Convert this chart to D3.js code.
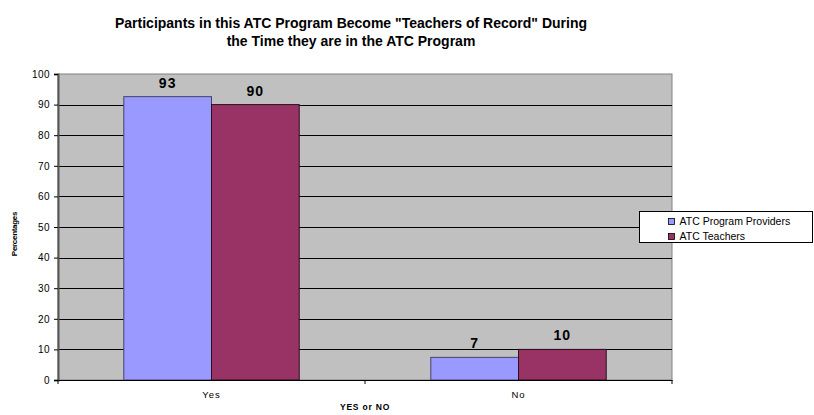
<!DOCTYPE html>
<html>
<head>
<meta charset="utf-8">
<script src="https://cdn.jsdelivr.net/npm/d3@7"></script>
<style>
  body { margin: 0; background: #fff; }
  svg { font-family: Arial, "Liberation Sans", sans-serif; }
</style>
</head>
<body>
<svg id="chart"></svg>
<script>
// chart data
const categories = ["Yes", "No"];
const seriesNames = ["ATC Program Providers", "ATC Teachers"];
const providers = [92.6, 7.4];
const teachers = [90, 10];
const yTicks = [0, 10, 20, 30, 40, 50, 60, 70, 80, 90, 100];
const colors = ["#9999FF", "#993366"];

const width = 814, height = 415;
const margin = { top: 74, right: 142, bottom: 35, left: 58 };

const svg = d3.select("#chart")
    .attr("width", width)
    .attr("height", height);

const plotW = width - margin.left - margin.right;
const plotH = height - margin.top - margin.bottom;

const g = svg.append("g")
    .attr("transform", `translate(${margin.left},${margin.top})`);

const x0 = d3.scaleBand().domain(categories).range([0, plotW]).paddingInner(0).paddingOuter(0);
const y = d3.scaleLinear().domain([0, 100]).range([plotH, 0]);

// gap between groups is 150% of one bar
const groupPad = (x0.bandwidth() - x0.bandwidth() / 3.5 * 2) / 2;
const x1 = d3.scaleBand().domain(seriesNames).range([groupPad, x0.bandwidth() - groupPad]);

// plot background
g.append("rect")
    .attr("width", plotW).attr("height", plotH)
    .attr("fill", "#C0C0C0")
    .attr("stroke", "#808080").attr("stroke-width", 1);

// gridlines
g.selectAll(".grid")
    .data(yTicks.filter(d => d > 0 && d < 100))
    .enter().append("line")
    .attr("x1", 0).attr("x2", plotW)
    .attr("y1", d => Math.round(y(d)) + 0.5).attr("y2", d => Math.round(y(d)) + 0.5)
    .attr("stroke", "#000").attr("stroke-width", 1);

// bars
const rows = categories.map((c, i) => ({ cat: c, vals: [providers[i], teachers[i]] }));

const groups = g.selectAll(".grp")
    .data(rows)
    .enter().append("g")
    .attr("transform", d => `translate(${x0(d.cat)},0)`);

groups.selectAll("rect")
    .data(d => d.vals.map((v, j) => ({ name: seriesNames[j], v, j })))
    .enter().append("rect")
    .attr("x", d => x1(d.name))
    .attr("y", d => y(d.v))
    .attr("width", x1.bandwidth())
    .attr("height", d => plotH - y(d.v))
    .attr("fill", d => colors[d.j])
    .attr("stroke", d => d.j === 0 ? "#444466" : "#2a0f1c")
    .attr("stroke-width", 1);

groups.selectAll("text")
    .data(d => d.vals.map((v, j) => ({ name: seriesNames[j], v, j })))
    .enter().append("text")
    .attr("x", d => x1(d.name) + x1.bandwidth() / 2)
    .attr("y", d => y(d.v) - 9)
    .attr("text-anchor", "middle")
    .attr("font-size", 14)
    .attr("letter-spacing", 1)
    .attr("font-weight", "bold")
    .text(d => Math.round(d.v));

// y axis
const yAxis = g.append("g")
    .call(d3.axisLeft(y).tickValues(yTicks).tickSize(4).tickPadding(4));
yAxis.select(".domain").attr("stroke", "#555").attr("stroke-width", 2);
yAxis.selectAll("text").attr("font-size", 10).attr("letter-spacing", 0.4).attr("fill", "#000")
    .attr("font-family", "Arial, 'Liberation Sans', sans-serif");

// x axis
const xAxis = g.append("g")
    .attr("transform", `translate(0,${plotH})`)
    .call(d3.axisBottom(x0).tickSize(0).tickPadding(11));
xAxis.select(".domain").attr("stroke", "#000");
xAxis.selectAll("text").attr("font-size", 9.5).attr("letter-spacing", 1).attr("fill", "#000")
    .attr("font-family", "Arial, 'Liberation Sans', sans-serif");
xAxis.selectAll(".bound")
    .data(d3.range(categories.length + 1))
    .enter().append("line")
    .attr("x1", d => d * x0.bandwidth()).attr("x2", d => d * x0.bandwidth())
    .attr("y1", 0).attr("y2", 4)
    .attr("stroke", "#000");

// axis titles
svg.append("text")
    .attr("x", margin.left + plotW / 2)
    .attr("y", 410)
    .attr("text-anchor", "middle")
    .attr("font-size", 8.5)
    .attr("letter-spacing", 0.8)
    .attr("font-weight", "bold")
    .text("YES or NO");

svg.append("text")
    .attr("transform", `translate(17,${margin.top + 160}) rotate(-90)`)
    .attr("text-anchor", "middle")
    .attr("font-size", 8)
    .attr("font-weight", "bold")
    .attr("letter-spacing", -0.3)
    .text("Percentages");

// title
const title = svg.append("text")
    .attr("text-anchor", "middle")
    .attr("font-size", 14)
    .attr("font-weight", "bold");
title.append("tspan").attr("x", 351).attr("y", 28)
    .text("Participants in this ATC Program Become \"Teachers of Record\" During");
title.append("tspan").attr("x", 351).attr("y", 46)
    .text("the Time they are in the ATC Program");

// legend
const legend = svg.append("g").attr("transform", "translate(639.5,211.5)");
legend.append("rect")
    .attr("width", 173).attr("height", 31)
    .attr("fill", "#fff").attr("stroke", "#000");
const items = legend.selectAll(".item")
    .data(seriesNames)
    .enter().append("g")
    .attr("transform", (d, i) => `translate(29,${4 + i * 15})`);
items.append("rect")
    .attr("width", 6).attr("height", 6)
    .attr("y", 3)
    .attr("fill", (d, i) => colors[i])
    .attr("stroke", "#000").attr("stroke-width", 0.8);
items.append("text")
    .attr("x", 11).attr("y", 9.5)
    .attr("font-size", 10.5)
    .text(d => d);
</script>
</body>
</html>
